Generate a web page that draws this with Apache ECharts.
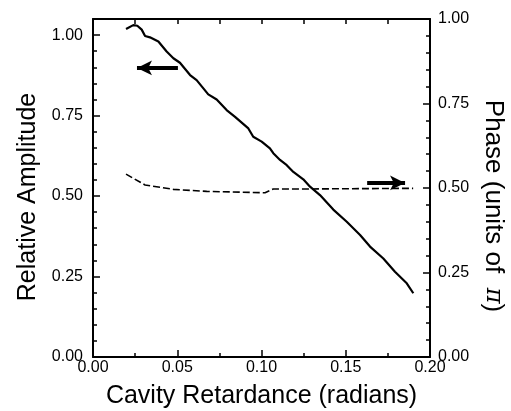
<!DOCTYPE html>
<html>
<head>
<meta charset="utf-8">
<script src="https://cdn.jsdelivr.net/npm/echarts@6/dist/echarts.min.js"></script>
<style>
  html, body { margin: 0; padding: 0; background: #fff; }
  #chart { width: 511px; height: 411px; }
</style>
</head>
<body>
<div id="chart"></div>
<script>
// amplitude (left axis)
const ampX = [0.0196, 0.0239, 0.0263, 0.0289, 0.0309, 0.0338, 0.0388, 0.0437, 0.0477, 0.0516,
  0.0576, 0.0615, 0.0684, 0.0734, 0.0793, 0.0843, 0.0922, 0.0951, 0.1001, 0.105,
  0.107, 0.111, 0.115, 0.1189, 0.1248, 0.1288, 0.1347, 0.1426, 0.1506, 0.1585,
  0.1644, 0.1723, 0.1792, 0.1862, 0.1901];
const ampY = [1.019, 1.031, 1.029, 1.017, 0.997, 0.993, 0.980, 0.949, 0.928, 0.914,
  0.876, 0.860, 0.816, 0.800, 0.767, 0.746, 0.710, 0.684, 0.669, 0.648,
  0.633, 0.612, 0.596, 0.575, 0.552, 0.529, 0.503, 0.458, 0.420, 0.379,
  0.343, 0.306, 0.265, 0.229, 0.198];

// phase (right axis, units of pi)
const phaseX = [0.0196, 0.0309, 0.0477, 0.0675, 0.1021, 0.107, 0.1229, 0.19];
const phaseY = [0.541, 0.509, 0.496, 0.490, 0.486, 0.497, 0.497, 0.499];

// arrows: [x0, y0] -> [x1, y1] in data units
const ampArrow = [[0.0504, 0.898], [0.0261, 0.898]];
const phaseArrow = [[0.1627, 0.515], [0.1852, 0.515]];

const zip = (xs, ys) => xs.map((x, i) => [x, ys[i]]);
const font = '"Liberation Sans", Arial, sans-serif';

const tickLabel = {
  fontFamily: font,
  fontSize: 16,
  color: '#000',
  formatter: (v) => v.toFixed(2),
};

const arrowLine = (pts) => ({
  silent: true,
  symbol: ['none', 'arrow'],
  symbolSize: [11, 15],
  label: { show: false },
  lineStyle: { color: '#000', width: 4, type: 'solid' },
  data: [[{ coord: pts[0] }, { coord: pts[1] }]],
});

const chart = echarts.init(document.getElementById('chart'));
chart.setOption({
  animation: false,
  backgroundColor: '#fff',
  grid: { left: 93, right: 81, top: 19, bottom: 54, outerBoundsMode: 'none', containLabel: false },
  xAxis: [
    {
      type: 'value',
      min: 0,
      max: 0.2,
      interval: 0.05,
      name: 'Cavity Retardance (radians)',
      nameLocation: 'middle',
      nameGap: 27,
      nameTextStyle: { fontFamily: font, fontSize: 25, color: '#000' },
      axisLine: { onZero: false, lineStyle: { color: '#000', width: 2 } },
      axisTick: { inside: true, length: 7, lineStyle: { color: '#000', width: 1.5 } },
      minorTick: { show: true, splitNumber: 2, length: 4, lineStyle: { color: '#000', width: 1.5 } },
      axisLabel: Object.assign({}, tickLabel, { margin: 3 }),
      splitLine: { show: false },
    },
    {
      type: 'value',
      position: 'top',
      min: 0,
      max: 0.2,
      interval: 0.025,
      axisLine: { show: true, onZero: false, lineStyle: { color: '#000', width: 2 } },
      axisTick: { show: true, inside: true, length: 5, lineStyle: { color: '#000', width: 1.5 } },
      axisLabel: { show: false },
      splitLine: { show: false },
    },
  ],
  yAxis: [
    {
      type: 'value',
      min: 0,
      max: 1.05,
      interval: 0.25,
      name: 'Relative Amplitude',
      nameLocation: 'middle',
      nameGap: 52,
      nameTextStyle: { fontFamily: font, fontSize: 25, color: '#000', padding: [0, 18, 0, 0] },
      axisLine: { show: true, onZero: false, lineStyle: { color: '#000', width: 2 } },
      axisTick: { show: true, inside: true, length: 7, lineStyle: { color: '#000', width: 1.5 } },
      minorTick: { show: true, splitNumber: 5, length: 4, lineStyle: { color: '#000', width: 1.5 } },
      axisLabel: Object.assign({}, tickLabel, { margin: 10, showMaxLabel: false }),
      splitLine: { show: false },
    },
    {
      type: 'value',
      position: 'right',
      min: 0,
      max: 1,
      interval: 0.25,
      name: '{n|Phase (units of  }{p|π}{n|)}',
      nameLocation: 'middle',
      nameRotate: -90,
      nameGap: 50,
      nameTextStyle: {
        padding: [0, 0, 0, 36],
        rich: {
          n: { fontFamily: font, fontSize: 26, color: '#000' },
          p: { fontFamily: '"DejaVu Serif", serif', fontStyle: 'italic', fontSize: 24, color: '#000' },
        },
      },
      axisLine: { show: true, onZero: false, lineStyle: { color: '#000', width: 2 } },
      axisTick: { show: true, inside: true, length: 7, lineStyle: { color: '#000', width: 1.5 } },
      minorTick: { show: true, splitNumber: 5, length: 4, lineStyle: { color: '#000', width: 1.5 } },
      axisLabel: Object.assign({}, tickLabel, { margin: 8 }),
      splitLine: { show: false },
    },
  ],
  series: [
    {
      name: 'Relative Amplitude',
      type: 'line',
      xAxisIndex: 0,
      yAxisIndex: 0,
      showSymbol: false,
      lineStyle: { color: '#000', width: 2.2 },
      data: zip(ampX, ampY),
      markLine: arrowLine(ampArrow),
    },
    {
      name: 'Phase',
      type: 'line',
      xAxisIndex: 0,
      yAxisIndex: 1,
      showSymbol: false,
      lineStyle: { color: '#000', width: 1.6, type: [7, 3] },
      data: zip(phaseX, phaseY),
      markLine: arrowLine(phaseArrow),
    },
  ],
});
</script>
</body>
</html>
